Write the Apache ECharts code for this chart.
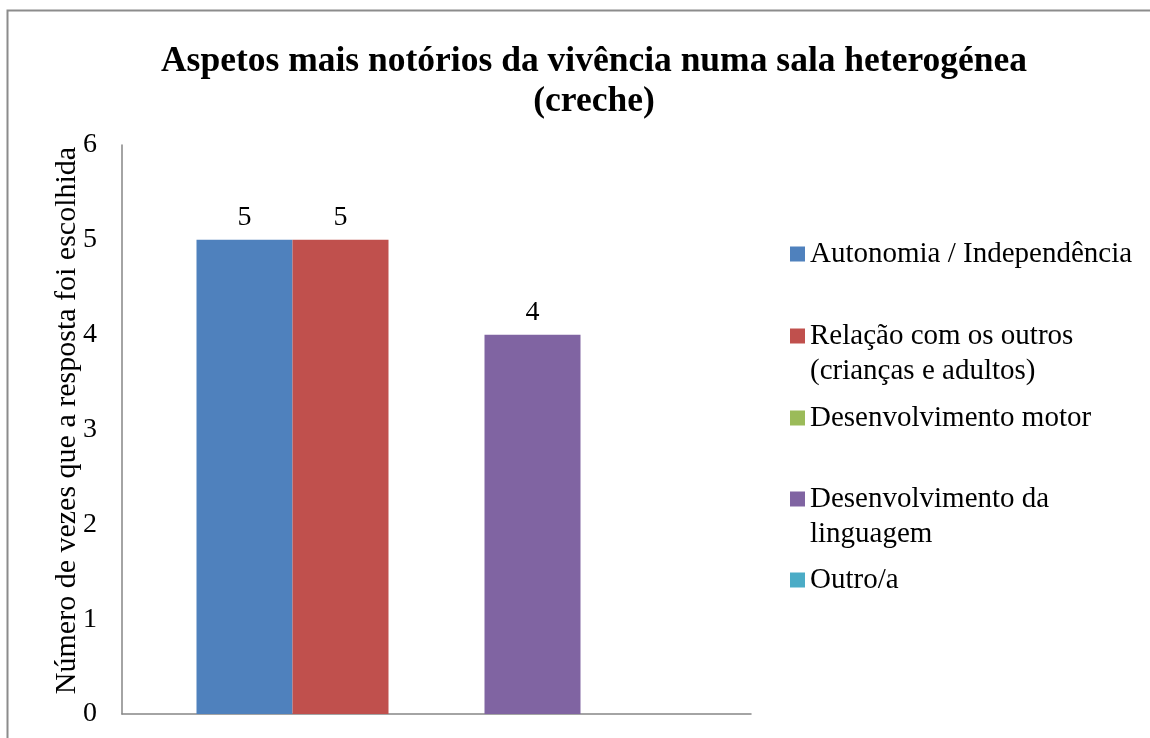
<!DOCTYPE html>
<html>
<head>
<meta charset="utf-8">
<script src="https://cdn.jsdelivr.net/npm/echarts@6/dist/echarts.min.js"></script>
<style>html,body{margin:0;padding:0;background:#fff}#c{width:1150px;height:738px}</style>
</head>
<body>
<div id="c"></div>
<script>
const titleText = 'Aspetos mais notórios da vivência numa sala heterogénea\n(creche)';
const yAxisName = 'Número de vezes que a resposta foi escolhida';
const categories = [''];
const seriesNames = ['Autonomia / Independência', 'Relação com os outros\n(crianças e adultos)', 'Desenvolvimento motor', 'Desenvolvimento da\nlinguagem', 'Outro/a'];
const seriesColors = ['#4F81BD', '#C0504D', '#9BBB59', '#8064A2', '#4BACC6'];
const autonomia = [5];
const relacao = [5];
const motor = [0];
const linguagem = [4];
const outro = [0];
const seriesValues = [autonomia, relacao, motor, linguagem, outro];
const yTicks = [0, 1, 2, 3, 4, 5, 6];

const FONT = '"Liberation Serif", "Times New Roman", serif';
const LH = 35;
const chart = echarts.init(document.getElementById('c'), null, {renderer: 'canvas'});

const iconCenters = [254, 336, 418, 499, 580];
const legends = seriesNames.map((n, i) => {
  const twoLine = n.indexOf('\n') >= 0;
  return {
    data: [n],
    orient: 'vertical',
    left: 785,
    top: iconCenters[i] - 5 - (twoLine ? 1.5 * LH : 0.5 * LH),
    itemWidth: 15, itemHeight: 15, itemGap: 0,
    icon: 'rect',
    formatter: name => (name.indexOf('\n') >= 0 ? ' \n' + name : name),
    textStyle: {fontFamily: FONT, fontSize: 29, color: '#000', lineHeight: LH},
    selectedMode: false
  };
});

chart.setOption({
  backgroundColor: '#fff',
  animation: false,
  title: {
    text: titleText, left: 589, top: 37, textAlign: 'center',
    textStyle: {fontFamily: FONT, fontSize: 35.5, fontWeight: 'bold', color: '#000', lineHeight: 40}
  },
  legend: legends,
  grid: {left: 122, right: 399, top: 145, bottom: 24, containLabel: false},
  xAxis: {
    type: 'category', data: categories,
    axisLine: {lineStyle: {color: '#868686', width: 1.5}},
    axisTick: {show: false}, axisLabel: {show: false}
  },
  yAxis: {
    type: 'value', min: yTicks[0], max: yTicks[yTicks.length - 1], interval: 1,
    name: yAxisName, nameLocation: 'middle', nameGap: 40, nameRotate: 90, nameMoveOverlap: false,
    nameTextStyle: {fontFamily: FONT, fontSize: 30, color: '#000', padding: [0, 0, 0, 18]},
    axisLine: {show: true, lineStyle: {color: '#868686', width: 1.5}},
    axisTick: {show: false}, splitLine: {show: false},
    axisLabel: {fontFamily: FONT, fontSize: 28, color: '#000', margin: 25}
  },
  graphic: [{
    type: 'rect', shape: {x: 7.5, y: 10.5, width: 1200, height: 800},
    style: {fill: 'none', stroke: '#8c8c8c', lineWidth: 2}, silent: true, z: -1
  }],
  series: seriesNames.map((n, i) => ({
    type: 'bar', name: n, data: seriesValues[i], barWidth: 96, barGap: '0%',
    itemStyle: {color: seriesColors[i]},
    label: {show: true, position: 'top', distance: 8, fontFamily: FONT, fontSize: 28, color: '#000',
      formatter: p => (p.value === 0 ? '' : String(p.value))}
  }))
});
</script>
</body>
</html>
